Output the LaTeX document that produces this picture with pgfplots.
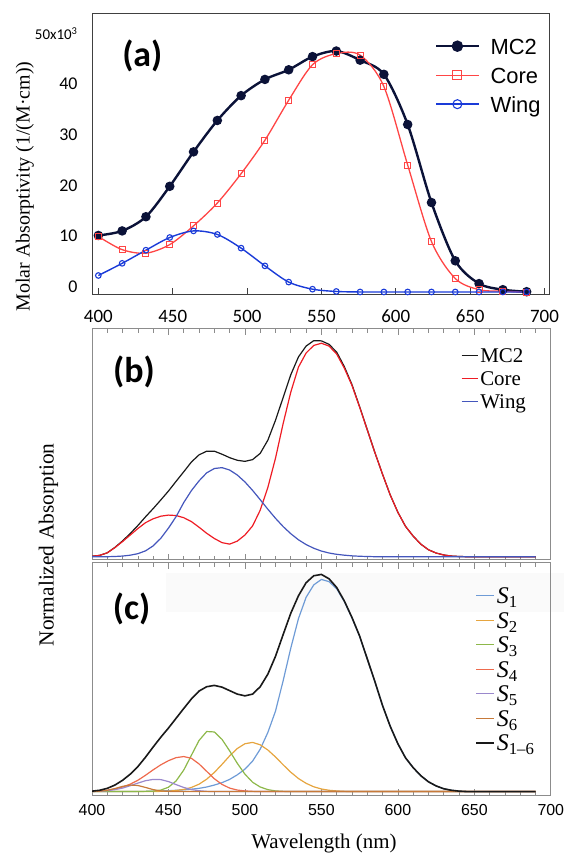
\documentclass[border=0pt]{standalone}
\usepackage{fontspec}
\setmainfont{Liberation Serif}
\newfontfamily\arialfont{Liberation Sans}
\newfontfamily\calfont{Carlito}
\usepackage{pgfplots}
\pgfplotsset{compat=1.18}
\usepackage{pgfplotstable}

\definecolor{mcnavy}{HTML}{0B1238}
\definecolor{corered}{HTML}{FF4545}
\definecolor{wingblue}{HTML}{1A3BD8}
\definecolor{bred}{HTML}{EE1C24}
\definecolor{bblue}{HTML}{4456BC}
\definecolor{sone}{HTML}{6E9BD6}
\definecolor{stwo}{HTML}{E6A53F}
\definecolor{sthree}{HTML}{8DB84A}
\definecolor{sfour}{HTML}{EE6A4D}
\definecolor{sfive}{HTML}{9A88CC}
\definecolor{ssix}{HTML}{C77A3A}
\definecolor{framegray}{HTML}{8C8C8C}

\pgfplotstableread{
x mc core wing
400 10.1 9.9 2.2
416 11.0 7.3 4.6
432 13.8 6.6 7.2
448 19.8 8.3 9.7
464 26.6 12.0 11.0
480 32.8 16.5 10.3
496 37.7 22.3 7.6
512 40.9 28.9 4.1
528 42.8 36.8 0.9
544 45.4 43.8 -0.5
560 46.5 46.0 -0.95
576 44.7 45.7 -1.05
592 41.9 39.5 -1.05
608 32.0 24.0 -1.05
624 16.6 8.9 -1.05
640 5.1 1.6 -1.05
656 0.6 -0.6 -1.05
672 -0.6 -0.9 -1.05
688 -1.0 -1.1 -1.05
}\tabA

\pgfplotstableread{
x mc core wing
400 0.002 0.002 0.000
405 0.006 0.006 0.000
410 0.018 0.018 0.000
415 0.043 0.042 0.001
420 0.073 0.070 0.003
425 0.107 0.100 0.007
430 0.144 0.130 0.014
435 0.184 0.157 0.027
440 0.222 0.175 0.050
445 0.262 0.187 0.085
450 0.303 0.192 0.132
455 0.348 0.190 0.185
460 0.392 0.180 0.250
465 0.437 0.162 0.305
470 0.470 0.136 0.350
475 0.487 0.108 0.387
480 0.487 0.084 0.407
485 0.473 0.065 0.411
490 0.457 0.058 0.400
495 0.445 0.072 0.377
500 0.440 0.100 0.345
505 0.448 0.142 0.306
510 0.477 0.215 0.263
515 0.538 0.320 0.219
520 0.630 0.455 0.177
525 0.735 0.615 0.139
530 0.840 0.760 0.106
535 0.922 0.875 0.078
540 0.972 0.940 0.056
545 0.997 0.975 0.039
550 0.996 0.985 0.026
555 0.980 0.972 0.017
560 0.944 0.935 0.011
565 0.877 0.870 0.007
570 0.794 0.790 0.004
575 0.692 0.690 0.002
580 0.586 0.585 0.001
585 0.480 0.480 0.000
590 0.380 0.380 0.000
595 0.285 0.285 0.000
600 0.205 0.205 0.000
605 0.140 0.140 0.000
610 0.095 0.095 0.000
615 0.058 0.058 0.000
620 0.032 0.032 0.000
625 0.017 0.017 0.000
630 0.008 0.008 0.000
635 0.003 0.003 0.000
640 0.001 0.001 0.000
645 0.000 0.000 0.000
655 0.000 0.000 0.000
670 0.000 0.000 0.000
690 0.000 0.000 0.000
}\tabB

\pgfplotstableread{
x s1 s2 s3 s4 s5 s6 sall
400 0.000 0.000 0.000 0.001 0.000 0.000 0.002
405 0.000 0.000 0.000 0.003 0.002 0.002 0.006
410 0.000 0.000 0.000 0.006 0.004 0.006 0.015
415 0.000 0.000 0.000 0.012 0.009 0.014 0.030
420 0.000 0.000 0.000 0.021 0.016 0.024 0.052
425 0.000 0.000 0.000 0.034 0.027 0.030 0.080
430 0.001 0.000 0.000 0.052 0.039 0.028 0.115
435 0.001 0.000 0.001 0.075 0.050 0.019 0.158
440 0.002 0.000 0.002 0.100 0.056 0.009 0.205
445 0.003 0.001 0.007 0.123 0.055 0.003 0.250
450 0.004 0.002 0.020 0.142 0.046 0.001 0.292
455 0.006 0.005 0.049 0.156 0.032 0.000 0.337
460 0.008 0.010 0.099 0.161 0.019 0.000 0.382
465 0.011 0.019 0.167 0.153 0.009 0.000 0.426
470 0.015 0.034 0.235 0.127 0.004 0.000 0.462
475 0.021 0.057 0.276 0.093 0.001 0.000 0.482
480 0.030 0.088 0.274 0.059 0.000 0.000 0.488
485 0.041 0.125 0.240 0.033 0.000 0.000 0.480
490 0.056 0.164 0.187 0.016 0.000 0.000 0.464
495 0.077 0.198 0.130 0.007 0.000 0.000 0.448
500 0.103 0.220 0.080 0.003 0.000 0.000 0.440
505 0.140 0.226 0.043 0.001 0.000 0.000 0.448
510 0.195 0.215 0.021 0.000 0.000 0.000 0.482
515 0.272 0.191 0.009 0.000 0.000 0.000 0.540
520 0.370 0.159 0.003 0.000 0.000 0.000 0.622
525 0.510 0.123 0.001 0.000 0.000 0.000 0.722
530 0.660 0.089 0.000 0.000 0.000 0.000 0.820
535 0.795 0.060 0.000 0.000 0.000 0.000 0.900
540 0.893 0.038 0.000 0.000 0.000 0.000 0.960
545 0.950 0.022 0.000 0.000 0.000 0.000 0.992
550 0.975 0.012 0.000 0.000 0.000 0.000 0.998
555 0.965 0.006 0.000 0.000 0.000 0.000 0.978
560 0.932 0.003 0.000 0.000 0.000 0.000 0.938
565 0.873 0.001 0.000 0.000 0.000 0.000 0.876
570 0.798 0.000 0.000 0.000 0.000 0.000 0.800
575 0.713 0.000 0.000 0.000 0.000 0.000 0.715
580 0.609 0.000 0.000 0.000 0.000 0.000 0.610
585 0.504 0.000 0.000 0.000 0.000 0.000 0.505
590 0.395 0.000 0.000 0.000 0.000 0.000 0.395
595 0.300 0.000 0.000 0.000 0.000 0.000 0.300
600 0.220 0.000 0.000 0.000 0.000 0.000 0.220
605 0.155 0.000 0.000 0.000 0.000 0.000 0.155
610 0.110 0.000 0.000 0.000 0.000 0.000 0.110
615 0.073 0.000 0.000 0.000 0.000 0.000 0.073
620 0.045 0.000 0.000 0.000 0.000 0.000 0.045
625 0.026 0.000 0.000 0.000 0.000 0.000 0.026
630 0.013 0.000 0.000 0.000 0.000 0.000 0.013
635 0.006 0.000 0.000 0.000 0.000 0.000 0.006
640 0.002 0.000 0.000 0.000 0.000 0.000 0.002
645 0.000 0.000 0.000 0.000 0.000 0.000 0.000
655 0.000 0.000 0.000 0.000 0.000 0.000 0.000
670 0.000 0.000 0.000 0.000 0.000 0.000 0.000
690 0.000 0.000 0.000 0.000 0.000 0.000 0.000
}\tabC

\begin{document}
\begin{tikzpicture}
\path[use as bounding box] (0bp,0bp) rectangle (564bp,853bp);
\fill[black!2] (166bp,241bp) rectangle (564bp,280bp);

% ---------------- panel (a)
\begin{axis}[at={(92.7bp,559bp)}, anchor=south west, scale only axis,
  width=457bp, height=280.7bp,
  xmin=396.2, xmax=703.5, ymin=-1.45, ymax=53.95,
  axis line style={black!75, line width=0.9bp},
  xtick={400,450,...,700}, xtick pos=bottom, tick align=inside,
  xtick style={black!75, line width=0.8bp}, major tick length=6bp,
  ytick={0,10,20,30,40,50}, ytick style={draw=none},
  yticklabels={0,10,20,30,40,{\fontsize{15}{15}\selectfont 50x10\textsuperscript{3}}},
  /pgf/number format/assume math mode=true,
  xticklabel style={font=\calfont\fontsize{19}{19}\selectfont, anchor=base, yshift=-29bp, inner sep=0pt},
  yticklabel style={font=\calfont\fontsize{18}{18}\selectfont, anchor=east, inner sep=0pt, xshift=-15bp},
  legend style={draw=none, fill=none, inner sep=0pt, at={(axis description cs:0.749,0.912)}, anchor=north west,
     font=\arialfont\fontsize{22}{22}\selectfont, row sep=13bp,
     nodes={inner sep=0pt, text height=16bp, text depth=0bp},
     /tikz/every odd column/.append style={column sep=11bp}},
  legend cell align=left,
  legend image code/.code={\draw[mark repeat=2,mark phase=2] plot coordinates {(0bp,0bp) (21bp,0bp) (42bp,0bp)};},
  legend image post style={mark size=4.5bp},
]
\addplot[mcnavy, line width=2.4bp, smooth, mark=*, mark size=3.5bp, mark options={fill=mcnavy, solid}] table[x=x,y=mc] {\tabA};
\addlegendentry{MC2}
\addplot[corered, line width=1.3bp, smooth, mark=square, mark size=3bp, mark options={line width=1bp}] table[x=x,y=core] {\tabA};
\addlegendentry{Core}
\addplot[wingblue, line width=1.4bp, smooth, mark=o, mark size=2.8bp, mark options={line width=1.1bp}] table[x=x,y=wing] {\tabA};
\addlegendentry{Wing}
\end{axis}

% ---------------- panel (b)
\begin{axis}[at={(92bp,293bp)}, anchor=south west, scale only axis,
  width=458.8bp, height=231bp,
  xmin=400, xmax=700, ymin=-0.0152, ymax=1.0508,
  axis line style={framegray, line width=1bp},
  xtick={400,450,...,700}, minor x tick num=4, xticklabels={}, xtick pos=both,
  ytick=\empty, tick align=inside,
  tick style={framegray, line width=0.7bp}, major tick length=6bp, minor tick length=4bp,
  legend style={draw=none, fill=none, inner sep=0pt, at={(axis description cs:0.804,0.918)}, anchor=north west,
     font=\fontsize{21}{21}\selectfont, row sep=9bp,
     nodes={inner sep=0pt, text height=14bp, text depth=0bp},
     /tikz/every odd column/.append style={column sep=1.5bp}},
  legend cell align=left,
  legend image code/.code={\draw (0bp,0bp) -- (16.5bp,0bp);},
]
\addplot[black!90, line width=1.2bp] table[x=x,y=mc] {\tabB};
\addlegendentry{MC2}
\addplot[bred, line width=1.2bp] table[x=x,y=core] {\tabB};
\addlegendentry{Core}
\addplot[bblue, line width=1.2bp] table[x=x,y=wing] {\tabB};
\addlegendentry{Wing}
\end{axis}

% ---------------- panel (c)
\begin{axis}[at={(92bp,57.5bp)}, anchor=south west, scale only axis,
  width=458.8bp, height=232.5bp,
  xmin=400, xmax=700, ymin=-0.018, ymax=1.0506,
  axis line style={framegray, line width=1bp},
  xtick={400,450,...,700}, minor x tick num=4, xtick pos=both,
  ytick=\empty, tick align=inside,
  tick style={framegray, line width=0.7bp}, major tick length=6bp, minor tick length=4bp,
  /pgf/number format/assume math mode=true,
  xticklabel style={font=\arialfont\fontsize{16}{16}\selectfont, anchor=base, yshift=-19.5bp, inner sep=0pt},
  xlabel={Wavelength (nm)},
  xlabel style={at={(axis description cs:0.5,0)}, anchor=base, yshift=-52.5bp, xshift=2.5bp, inner sep=0pt, font=\fontsize{21}{21}\selectfont},
  legend style={draw=none, fill=none, inner sep=0pt, at={(axis description cs:0.835,0.895)}, anchor=north west,
     font=\fontsize{24}{24}\selectfont, row sep=8.3bp,
     nodes={inner sep=0pt, text height=16.2bp, text depth=0bp},
     /tikz/every odd column/.append style={column sep=2.3bp}},
  legend cell align=left,
  legend image code/.code={\draw (0bp,0bp) -- (17.7bp,0bp);},
]
\addplot[sone, line width=1.2bp] table[x=x,y=s1] {\tabC};
\addlegendentry{{\itshape S}\textsubscript{1}}
\addplot[stwo, line width=1.2bp] table[x=x,y=s2] {\tabC};
\addlegendentry{{\itshape S}\textsubscript{2}}
\addplot[sthree, line width=1.2bp] table[x=x,y=s3] {\tabC};
\addlegendentry{{\itshape S}\textsubscript{3}}
\addplot[sfour, line width=1.2bp] table[x=x,y=s4] {\tabC};
\addlegendentry{{\itshape S}\textsubscript{4}}
\addplot[sfive, line width=1.2bp] table[x=x,y=s5] {\tabC};
\addlegendentry{{\itshape S}\textsubscript{5}}
\addplot[ssix, line width=1.2bp] table[x=x,y=s6] {\tabC};
\addlegendentry{{\itshape S}\textsubscript{6}}
\addplot[black!90, line width=1.6bp] table[x=x,y=sall] {\tabC};
\addlegendentry{{\itshape S}\textsubscript{1\textendash6}}
\end{axis}

\node[font=\calfont\bfseries\fontsize{36}{36}\selectfont] at (142.3bp,797bp) {(a)};
\node[font=\calfont\bfseries\fontsize{36}{36}\selectfont] at (134bp,481.3bp) {(b)};
\node[font=\calfont\bfseries\fontsize{36}{36}\selectfont] at (131.5bp,244bp) {(c)};
\node[rotate=90, anchor=base, font=\fontsize{20}{20}\selectfont] at (29.5bp,666.5bp) {Molar Absorptivity (1/(M·cm))};
\node[rotate=90, anchor=base, font=\fontsize{21.5}{21.5}\selectfont] at (53.5bp,308bp) {Normalized Absorption};
\end{tikzpicture}
\end{document}
